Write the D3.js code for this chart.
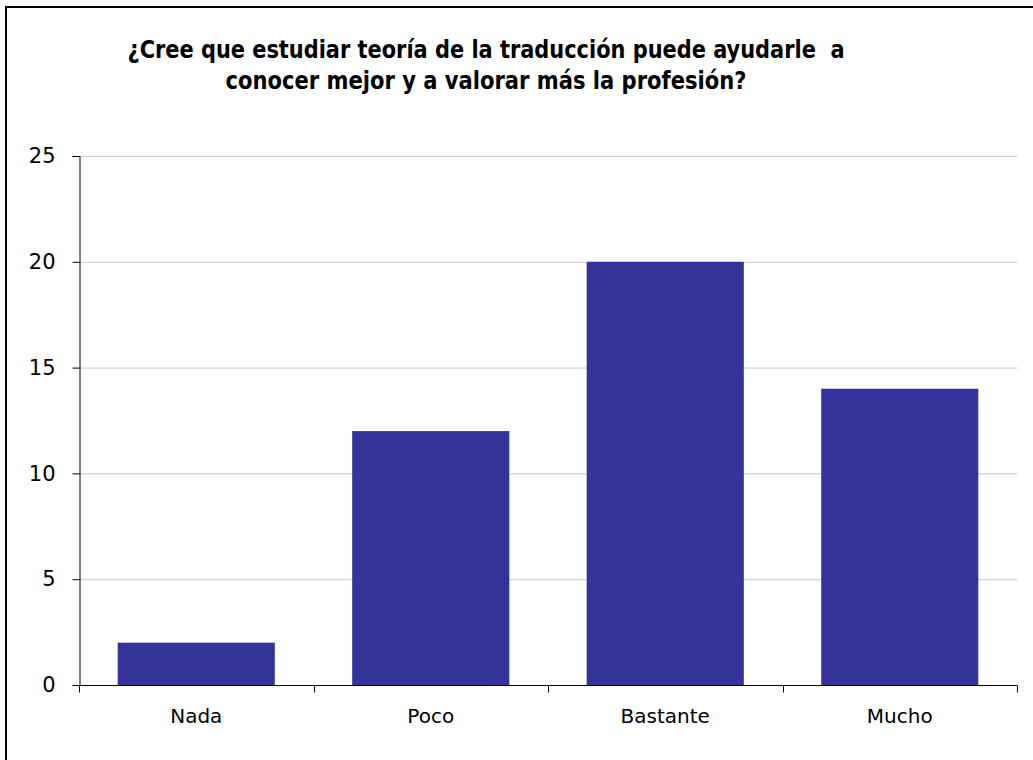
<!DOCTYPE html>
<html><head><meta charset="utf-8">
<script src="https://cdn.jsdelivr.net/npm/d3@7"></script>
<style>body{margin:0;background:#fff}svg{display:block}</style>
</head><body>
<script>
const categories = ["Nada","Poco","Bastante","Mucho"];
const values = [2,12,20,14];
const yTicks = [0,5,10,15,20,25];
const titleLines = ["¿Cree que estudiar teoría de la traducción puede ayudarle  a","conocer mejor y a valorar más la profesión?"];

const W=1033,H=760;
const svg=d3.select("body").append("svg").attr("width",W).attr("height",H);
svg.append("rect").attr("x",0).attr("y",0).attr("width",W).attr("height",H).attr("fill","#fff");
svg.append("path").attr("d",`M6,${H} L6,7 L${W},7`).attr("fill","none").attr("stroke","#000").attr("stroke-width",2);

const m={l:79,r:1017,t:156,b:685};
const x=d3.scaleBand().domain(categories).range([m.l,m.r]).paddingInner(0.33).paddingOuter(0.165);
const y=d3.scaleLinear().domain([0,25]).range([m.b,m.t]);

svg.append("g").selectAll("line").data(yTicks.filter(d=>d>0)).join("line")
  .attr("x1",m.l).attr("x2",m.r).attr("y1",d=>y(d)+0.5).attr("y2",d=>y(d)+0.5)
  .attr("stroke","#c8c8c8").attr("stroke-width",1);

svg.append("g").selectAll("rect").data(values).join("rect")
  .attr("x",(d,i)=>x(categories[i])).attr("width",x.bandwidth())
  .attr("y",d=>y(d)).attr("height",d=>y(0)-y(d))
  .attr("fill","#333399");

const ya=svg.append("g").attr("transform",`translate(${m.l+0.5},0)`)
  .call(d3.axisLeft(y).tickValues(yTicks).tickSize(7).tickPadding(17).tickFormat(d3.format("d")));
ya.select(".domain").attr("stroke","#000");
ya.selectAll(".tick line").attr("stroke","#000");
ya.selectAll("text").attr("font-family","DejaVu Sans, Verdana, sans-serif").attr("font-size",21).attr("fill","#000");

const xa=svg.append("g").attr("transform",`translate(0,${m.b+0.5})`)
  .call(d3.axisBottom(x).tickSize(0).tickPadding(23));
xa.select(".domain").attr("stroke","#000").attr("d",`M${m.l},0H${m.r}`);
xa.selectAll("text").attr("font-family","DejaVu Sans, Verdana, sans-serif").attr("font-size",20).attr("fill","#000");
const bounds=d3.range(categories.length+1).map(i=>m.l+i*(m.r-m.l)/categories.length);
xa.append("g").selectAll("line").data(bounds).join("line")
  .attr("x1",d=>Math.round(d)+0.5).attr("x2",d=>Math.round(d)+0.5).attr("y1",0).attr("y2",7).attr("stroke","#000");

const tg=svg.append("g");
const targetW=[717,521];
titleLines.forEach((t,i)=>{
  tg.append("text").attr("x",486).attr("y",58+i*31).attr("text-anchor","middle")
    .attr("font-family","DejaVu Sans, Verdana, sans-serif").attr("font-weight","bold").attr("font-size",24).attr("fill","#000")
    .attr("textLength",targetW[i]).attr("lengthAdjust","spacingAndGlyphs")
    .style("white-space","pre").text(t);
});
</script>
</body></html>
